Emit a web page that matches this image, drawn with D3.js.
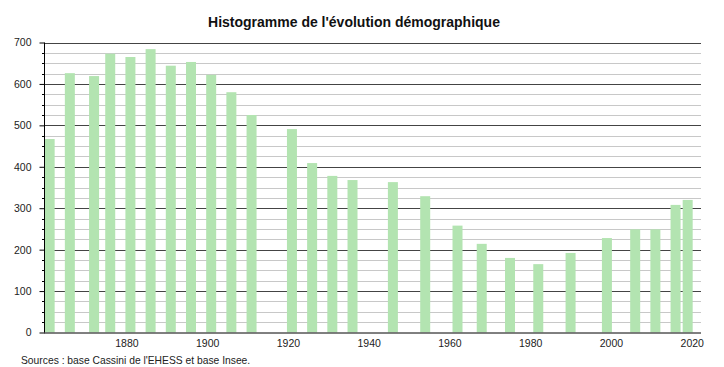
<!DOCTYPE html>
<html>
<head>
<meta charset="utf-8">
<script src="https://cdn.jsdelivr.net/npm/d3@7"></script>
<style>
body { margin: 0; background: #fff; }
text { font-family: "Liberation Sans", Arial, sans-serif; }
</style>
</head>
<body>
<script>
var w = 724;
var h = 367;

var years = [1861, 1866, 1872, 1876, 1881, 1886, 1891, 1896, 1901, 1906, 1911,
    1921, 1926, 1931, 1936, 1946, 1954, 1962, 1968, 1975, 1982, 1990, 1999,
    2006, 2011, 2016, 2019];
var population = [467, 626, 619, 673, 665, 684, 644, 653, 622, 580, 525,
    491, 409, 378, 368, 363, 329, 258, 214, 180, 165, 192, 228,
    249, 249, 308, 320];
var yTicks = [0, 100, 200, 300, 400, 500, 600, 700];
var xTicks = [1880, 1900, 1920, 1940, 1960, 1980, 2000, 2020];

var pLeft = 44, pRight = 701, pTop = 42.5, pBottom = 332.5;

var svg = d3.select("body")
    .append("svg")
    .attr("width", w)
    .attr("height", h);

var x = d3.scaleLinear().domain([1859.6, 2022.3]).range([pLeft, pRight]);
var y = d3.scaleLinear().domain([0, 700]).range([pBottom, pTop]);

// minor grid every 25
var minor = d3.range(25, 700, 25).filter(function (d) { return d % 100 !== 0; });
svg.selectAll("line.minor")
    .data(minor)
    .enter()
    .append("line")
    .attr("class", "minor")
    .attr("x1", pLeft).attr("x2", pRight)
    .attr("y1", function (d) { return Math.round(y(d)) + 0.5; })
    .attr("y2", function (d) { return Math.round(y(d)) + 0.5; })
    .attr("stroke", "#c8c8c8");

svg.selectAll("line.major")
    .data(yTicks.slice(1))
    .enter()
    .append("line")
    .attr("class", "major")
    .attr("x1", pLeft).attr("x2", pRight)
    .attr("y1", function (d) { return Math.round(y(d)) + 0.5; })
    .attr("y2", function (d) { return Math.round(y(d)) + 0.5; })
    .attr("stroke", "#444");

// bars
var bw = 10;
svg.append("clipPath").attr("id", "plot")
    .append("rect").attr("x", pLeft + 1).attr("y", 0).attr("width", pRight - pLeft).attr("height", pBottom);

svg.append("g").attr("clip-path", "url(#plot)")
    .selectAll("rect")
    .data(years)
    .enter()
    .append("rect")
    .attr("x", function (d) { return x(d) - bw / 2; })
    .attr("width", bw)
    .attr("y", function (d, i) { return y(population[i]); })
    .attr("height", function (d, i) { return pBottom - y(population[i]); })
    .attr("fill", "#b3e4b1");

// y axis
var yAxis = d3.axisLeft(y).tickValues(yTicks).tickSize(5).tickPadding(8).tickFormat(d3.format("d"));
var gy = svg.append("g").attr("transform", "translate(" + (pLeft + 0.5) + ",0)").call(yAxis);
gy.select(".domain").attr("stroke", "#000").attr("d", "M0," + pTop + "V" + pBottom);
gy.selectAll(".tick line").attr("stroke", "#000");
gy.selectAll(".tick text").attr("font-size", "10.5px").attr("fill", "#222")
    .attr("font-family", "Liberation Sans, Arial, sans-serif");

svg.selectAll("line.ymin")
    .data(minor)
    .enter()
    .append("line")
    .attr("class", "ymin")
    .attr("x1", pLeft - 2).attr("x2", pLeft)
    .attr("y1", function (d) { return Math.round(y(d)) + 0.5; })
    .attr("y2", function (d) { return Math.round(y(d)) + 0.5; })
    .attr("stroke", "#000");

// x axis
var xAxis = d3.axisBottom(x).tickValues(xTicks).tickSize(0).tickPadding(7).tickFormat(d3.format("d"));
var gx = svg.append("g").attr("transform", "translate(0," + (pBottom + 0.5) + ")").call(xAxis);
gx.select(".domain").attr("stroke", "#000").attr("d", "M" + pLeft + ",0H" + pRight);
gx.selectAll(".tick text").attr("font-size", "10.5px").attr("fill", "#222")
    .attr("font-family", "Liberation Sans, Arial, sans-serif");

// title & source
svg.append("text")
    .text("Histogramme de l'évolution démographique")
    .attr("x", 354).attr("y", 27)
    .attr("text-anchor", "middle")
    .attr("font-size", "14px")
    .attr("font-weight", "bold")
    .attr("fill", "#111");

svg.append("text")
    .text("Sources : base Cassini de l'EHESS et base Insee.")
    .attr("x", 21).attr("y", 364)
    .attr("font-size", "10.3px")
    .attr("fill", "#222");
</script>
</body>
</html>
